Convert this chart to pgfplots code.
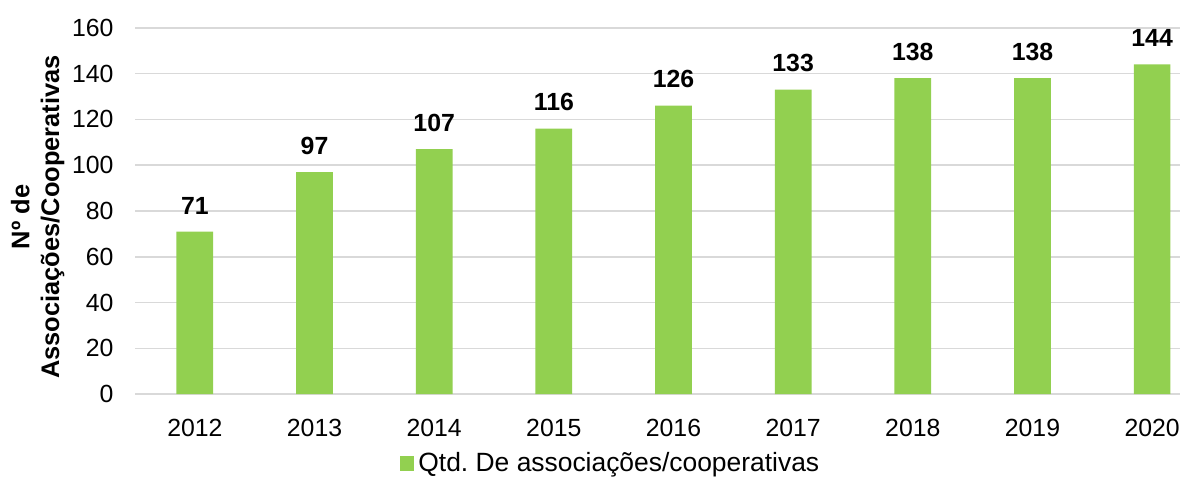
\documentclass[border=0pt]{standalone}
\usepackage{fontspec}
\setmainfont{Liberation Sans}
\usepackage{pgfplots}
\pgfplotsset{compat=1.18}
\definecolor{barGreen}{RGB}{146,208,80}
\definecolor{gridGray}{RGB}{217,217,217}

\begin{document}
\frenchspacing
\fontsize{12.5pt}{15pt}\selectfont
\begin{tikzpicture}
\begin{axis}[
  scale only axis,
  width=526pt, height=184.5pt,
  xmin=-0.5, xmax=8.23,
  ymin=0, ymax=160,
  ytick={0,20,...,160},
  xtick={0,1,2,3,4,5,6,7,8},
  xticklabels={2012,2013,2014,2015,2016,2017,2018,2019,2020},
  axis line style={draw=none},
  major tick length=0pt,
  ymajorgrids,
  grid style={draw=gridGray, line width=0.9pt},
  /pgf/number format/assume math mode=true,
  tick label style={font=\fontsize{12.5pt}{14pt}\selectfont},
  xticklabel style={yshift=-8pt},
  yticklabel style={xshift=-6.5pt},
  ylabel={Nº de\\Associações/Cooperativas},
  every axis y label/.style={at={(axis description cs:0,0.5)}, rotate=90,
    anchor=center, yshift=49pt, xshift=-3pt, align=center,
    font=\bfseries\fontsize{12.8pt}{15pt}\selectfont},
  ybar, bar width=18.5pt,
  nodes near coords,
  every node near coord/.append style={font=\bfseries\fontsize{12.5pt}{14pt}\selectfont, yshift=4.5pt},
  legend style={at={(0.456,0)}, anchor=center, yshift=-35pt, draw=none,
    font=\fontsize{13.3pt}{15pt}\selectfont, inner sep=0pt},
  legend image code/.code={\fill[barGreen] (0pt,-3.75pt) rectangle (7.5pt,3.75pt);},
]
\addplot[fill=barGreen, draw=none] coordinates {
  (0,71) (1,97) (2,107) (3,116) (4,126) (5,133) (6,138) (7,138) (8,144)
};
\legend{Qtd. De associações/cooperativas}
\end{axis}
\path ([shift={(-68pt,-44.5pt)}]current axis.south west) rectangle ([shift={(0pt,14pt)}]current axis.north east);
\end{tikzpicture}
\end{document}
